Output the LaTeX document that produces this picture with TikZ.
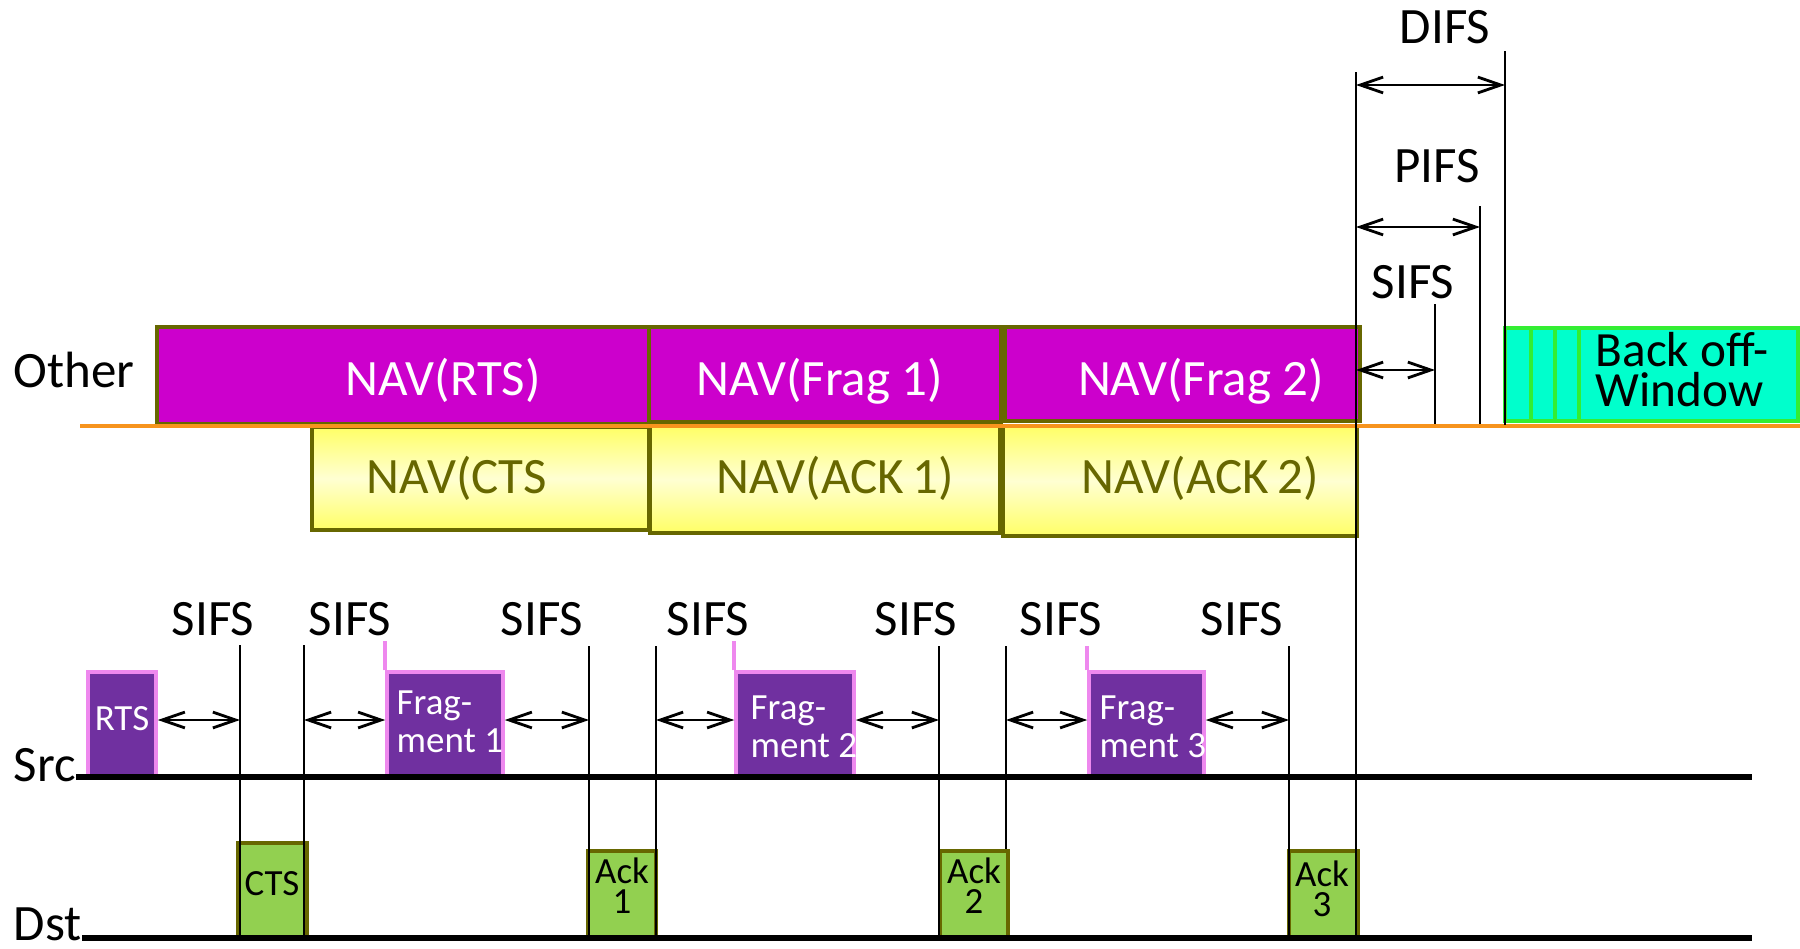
\documentclass[tikz,border=0pt]{standalone}
\usepackage{fontspec}
\setmainfont{Carlito}
\usetikzlibrary{arrows.meta, calc, fit}

\definecolor{navmag}{HTML}{CC00CC}
\definecolor{navedge}{HTML}{676700}
\definecolor{navyel}{HTML}{FFFF66}
\definecolor{navpale}{HTML}{FFFFD2}
\definecolor{datapurple}{HTML}{7030A0}
\definecolor{datapink}{HTML}{EE88EE}
\definecolor{ackgreen}{HTML}{92D050}
\definecolor{backfill}{HTML}{00FFCC}
\definecolor{backedge}{HTML}{33EE33}
\definecolor{medium}{HTML}{F7941D}

\tikzstyle{lbl}=[font=\fontsize{14.5}{17}\selectfont, inner sep=0pt]
\tikzstyle{lblsmall}=[font=\fontsize{10.5}{10.8}\selectfont, inner sep=0pt, align=left]
\tikzstyle{lblack}=[font=\fontsize{10.5}{8.6}\selectfont, inner sep=0pt, align=center]
\tikzstyle{navtop}=[draw=navedge, line width=1pt, fill=navmag, inner sep=0pt]
\tikzstyle{navbot}=[draw=navedge, line width=1pt, top color=navyel, bottom color=navyel, middle color=navpale, inner sep=0pt]
\tikzstyle{datafr}=[draw=datapink, line width=1pt, fill=datapurple, inner sep=0pt]
\tikzstyle{reply}=[draw=navedge, line width=1pt, fill=ackgreen, inner sep=0pt]
\tikzstyle{tline}=[line width=0.7pt]
\tikzstyle{gap}=[<->, >={Straight Barb[length=6.5pt, width=4.5pt]}, line width=0.8pt]
\tikzstyle{wire}=[line width=1.5pt]

\begin{document}
\begin{tikzpicture}[x=0.01cm, y=-0.01cm]
    \useasboundingbox (0,0) rectangle (1800,948);

    % other station: NAV
    \node[lbl, anchor=base west] (other) at (13,387) {Other};
    \node[navtop, fit={(157,327) (649,424)}] (navrts) {};
    \node[navtop, fit={(649,327) (1001,422)}] (navfrag1) {};
    \node[navtop, fit={(1005,327) (1360,421)}] (navfrag2) {};
    \node[navbot, fit={(312,427) (649,530)}] (navcts) {};
    \node[navbot, fit={(650,426) (1000,533)}] (navack1) {};
    \node[navbot, fit={(1003,426) (1357,536)}] (navack2) {};

    \node[lbl, text=white, anchor=base] (navrtstxt) at (443,395) {NAV(RTS)};
    \node[lbl, text=white, anchor=base] (navfrag1txt) at (820,395) {NAV(Frag 1)};
    \node[lbl, text=white, anchor=base] (navfrag2txt) at (1201,395) {NAV(Frag 2)};
    \node[lbl, text=navedge, anchor=base] (navctstxt) at (457,493) {NAV(CTS};
    \node[lbl, text=navedge, anchor=base] (navack1txt) at (835,493) {NAV(ACK\,1)};
    \node[lbl, text=navedge, anchor=base] (navack2txt) at (1200,493) {NAV(ACK\,2)};

    \node[draw=backedge, line width=1pt, fill=backfill, inner sep=0pt, fit={(1505,328) (1798,421)}] (backoff) {};
    \draw[backedge, line width=1pt] (backoff.north -| 1531,0) -- (backoff.south -| 1531,0);
    \draw[backedge, line width=1pt] (backoff.north -| 1555,0) -- (backoff.south -| 1555,0);
    \draw[backedge, line width=1pt] (backoff.north -| 1579,0) -- (backoff.south -| 1579,0);
    \node[lbl, font=\fontsize{14}{11.4}\selectfont, align=left, anchor=west] (backtxt) at (1595,370) {Back off-\\Window};

    \coordinate (navline) at (80,426);
    \draw[medium, line width=1pt] (navline) -- (1800,426);

    % IFS marks
    \coordinate (tend) at (1356,72);
    \coordinate (difs) at (1505,51);
    \coordinate (pifs) at (1480,206);
    \coordinate (sifs) at (1435,304);
    \draw[tline] (difs) -- (difs |- 0,425);
    \draw[tline] (pifs) -- (pifs |- 0,424);
    \draw[tline] (sifs) -- (sifs |- 0,424);
    \draw[gap] (tend |- 0,85) -- (difs |- 0,85);
    \draw[gap] (tend |- 0,227) -- (pifs |- 0,227);
    \draw[gap] (tend |- 0,370) -- (sifs |- 0,370);
    \node[lbl, anchor=base] (difstxt) at (1445,43) {DIFS};
    \node[lbl, anchor=base] (pifstxt) at (1437,182) {PIFS};
    \node[lbl, anchor=base] (sifstxt) at (1413,298) {SIFS};

    % source and destination
    \node[lbl, anchor=base west] (src) at (13,781) {Src};
    \node[lbl, anchor=base west] (dst) at (13,940) {Dst};
    \coordinate (srcend) at (1752,777);
    \coordinate (dstend) at (1752,938);

    \node[datafr, fit={(88,672) (156,777)}] (rts) {};
    \node[datafr, fit={(387,672) (503,777)}] (frag1) {};
    \node[datafr, fit={(736,672) (854,777)}] (frag2) {};
    \node[datafr, fit={(1089,672) (1204,777)}] (frag3) {};
    \draw[datapink, line width=1pt] (frag1.north west) -- ++(0,-29);
    \draw[datapink, line width=1pt] (frag2.north west) -- ++(0,-29);
    \draw[datapink, line width=1pt] (frag3.north west) -- ++(0,-24);

    \node[reply, fit={(238,843) (307,937)}] (cts) {};
    \node[reply, fit={(588,851) (656,937)}] (ack1) {};
    \node[reply, fit={(940,851) (1008,937)}] (ack2) {};
    \node[reply, fit={(1289,851) (1358,937)}] (ack3) {};

    \node[lblsmall, text=white, anchor=center] (rtstxt) at (122,719) {RTS};
    \node[lblsmall, text=white, anchor=west] (frag1txt) at (396,722) {Frag-\\ment 1};
    \node[lblsmall, text=white, anchor=west] (frag2txt) at (750,727) {Frag-\\ment 2};
    \node[lblsmall, text=white, anchor=west] (frag3txt) at (1099,727) {Frag-\\ment 3};
    \node[lblsmall] (ctstxt) at (272,884) {CTS};
    \node[lblack] (ack1txt) at (622,886) {Ack\\1};
    \node[lblack] (ack2txt) at (974,886) {Ack\\2};
    \node[lblack] (ack3txt) at (1322,889) {Ack\\3};

    \draw[wire] (src.east |- srcend) -- (srcend);
    \draw[wire] (dst.east |- dstend) -- (dstend);

    % SIFS gaps
    \coordinate (t1) at (240,645);
    \coordinate (t2) at (304,645);
    \coordinate (t3) at (589,646);
    \coordinate (t4) at (656,646);
    \coordinate (t5) at (939,646);
    \coordinate (t6) at (1006,646);
    \coordinate (t7) at (1289,646);
    \coordinate (ay) at (0,720);
    \draw[tline] (t1) -- (t1 |- dstend);
    \draw[tline] (t2) -- (t2 |- dstend);
    \draw[tline] (t3) -- (t3 |- dstend);
    \draw[tline] (t4) -- (t4 |- dstend);
    \draw[tline] (t5) -- (t5 |- dstend);
    \draw[tline] (t6) -- (t6 |- ack2.north);
    \draw[tline] (t7) -- (t7 |- dstend);
    \draw[tline] (tend) -- (tend |- dstend);

    \draw[gap] (rts.east |- ay) -- (t1 |- ay);
    \draw[gap] (t2 |- ay) -- (frag1.west |- ay);
    \draw[gap] (frag1.east |- ay) -- (t3 |- ay);
    \draw[gap] (t4 |- ay) -- (frag2.west |- ay);
    \draw[gap] (frag2.east |- ay) -- (t5 |- ay);
    \draw[gap] (t6 |- ay) -- (frag3.west |- ay);
    \draw[gap] (frag3.east |- ay) -- (t7 |- ay);

    \node[lbl, anchor=base] (sifs1) at (213,635) {SIFS};
    \node[lbl, anchor=base] (sifs2) at (350,635) {SIFS};
    \node[lbl, anchor=base] (sifs3) at (542,635) {SIFS};
    \node[lbl, anchor=base] (sifs4) at (708,635) {SIFS};
    \node[lbl, anchor=base] (sifs5) at (916,635) {SIFS};
    \node[lbl, anchor=base] (sifs6) at (1061,635) {SIFS};
    \node[lbl, anchor=base] (sifs7) at (1242,635) {SIFS};
\end{tikzpicture}
\end{document}
